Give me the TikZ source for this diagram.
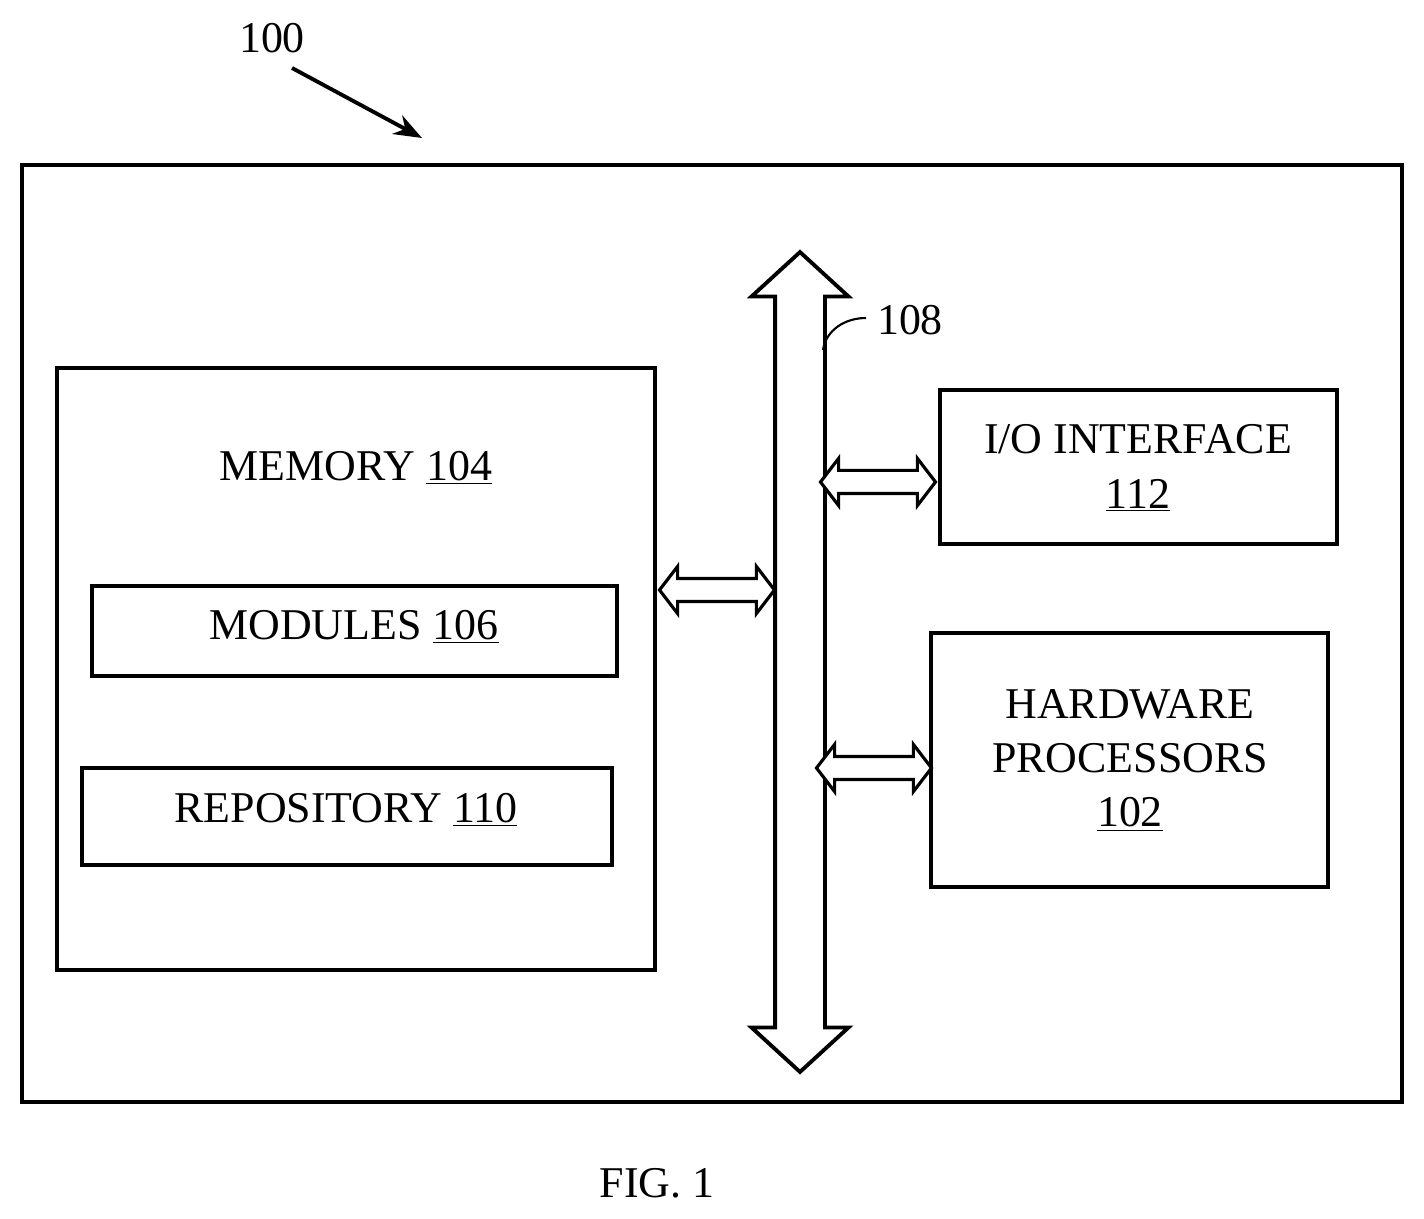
\documentclass[tikz,border=0pt]{standalone}
\usepackage{fontspec}
\setmainfont{Liberation Serif}
\usetikzlibrary{shapes.arrows, arrows.meta}

\begin{document}
\begin{tikzpicture}[x=0.02cm, y=-0.02cm,
  box/.style={draw, line width=2.4pt, inner sep=0pt},
  lbl/.style={font=\fontsize{25}{31}\selectfont, align=center},
  link/.style={double arrow, draw, line width=1.8pt, fill=white, minimum height=2.3cm,
    inner xsep=0pt, inner ysep=0.2cm, double arrow head extend=0.24cm,
    double arrow tip angle=105}]
\useasboundingbox (0,0) rectangle (1424,1219);

% boxes
\draw[box] (22,165) rectangle (1402,1102);
\draw[box] (57,368) rectangle (655,970);
\node[lbl] (mem) at (356,468) {MEMORY \underline{104}};
\draw[box] (92,586) rectangle (617,676);
\node[lbl] (mod) at (354,627) {MODULES \underline{106}};
\draw[box] (82,768) rectangle (612,865);
\node[lbl] (rep) at (346,810) {REPOSITORY \underline{110}};
\draw[box] (940,390) rectangle (1337,544);
\node[lbl] (io) at (1138,468) {I/O INTERFACE\\\underline{112}};
\draw[box] (931,633) rectangle (1328,887);
\node[lbl] (hw) at (1130,760) {HARDWARE\\PROCESSORS\\\underline{102}};

% bus
\node[double arrow, draw, line width=2.2pt, rotate=90, minimum height=16.4cm,
  inner xsep=0pt, inner ysep=0.46cm, double arrow head extend=0.47cm,
  double arrow tip angle=95] (bus) at (800,662) {};
\node[link] (l1) at (717,590) {};
\node[link] (l2) at (878,482) {};
\node[link] (l3) at (874,768) {};

% labels
\node[lbl] (n108) at (910,320) {108};
\draw[line width=1.2pt] (823,350) .. controls (826,330) and (845,318) .. (866,318);
\node[lbl] (n100) at (272,38) {100};
\coordinate (tip) at (422,138);
\draw[line width=2.2pt, -{Stealth[length=16pt,width=12pt]}] (292,68) -- (tip);
\node[lbl] (fig) at (657,1183) {FIG. 1};
\end{tikzpicture}
\end{document}
